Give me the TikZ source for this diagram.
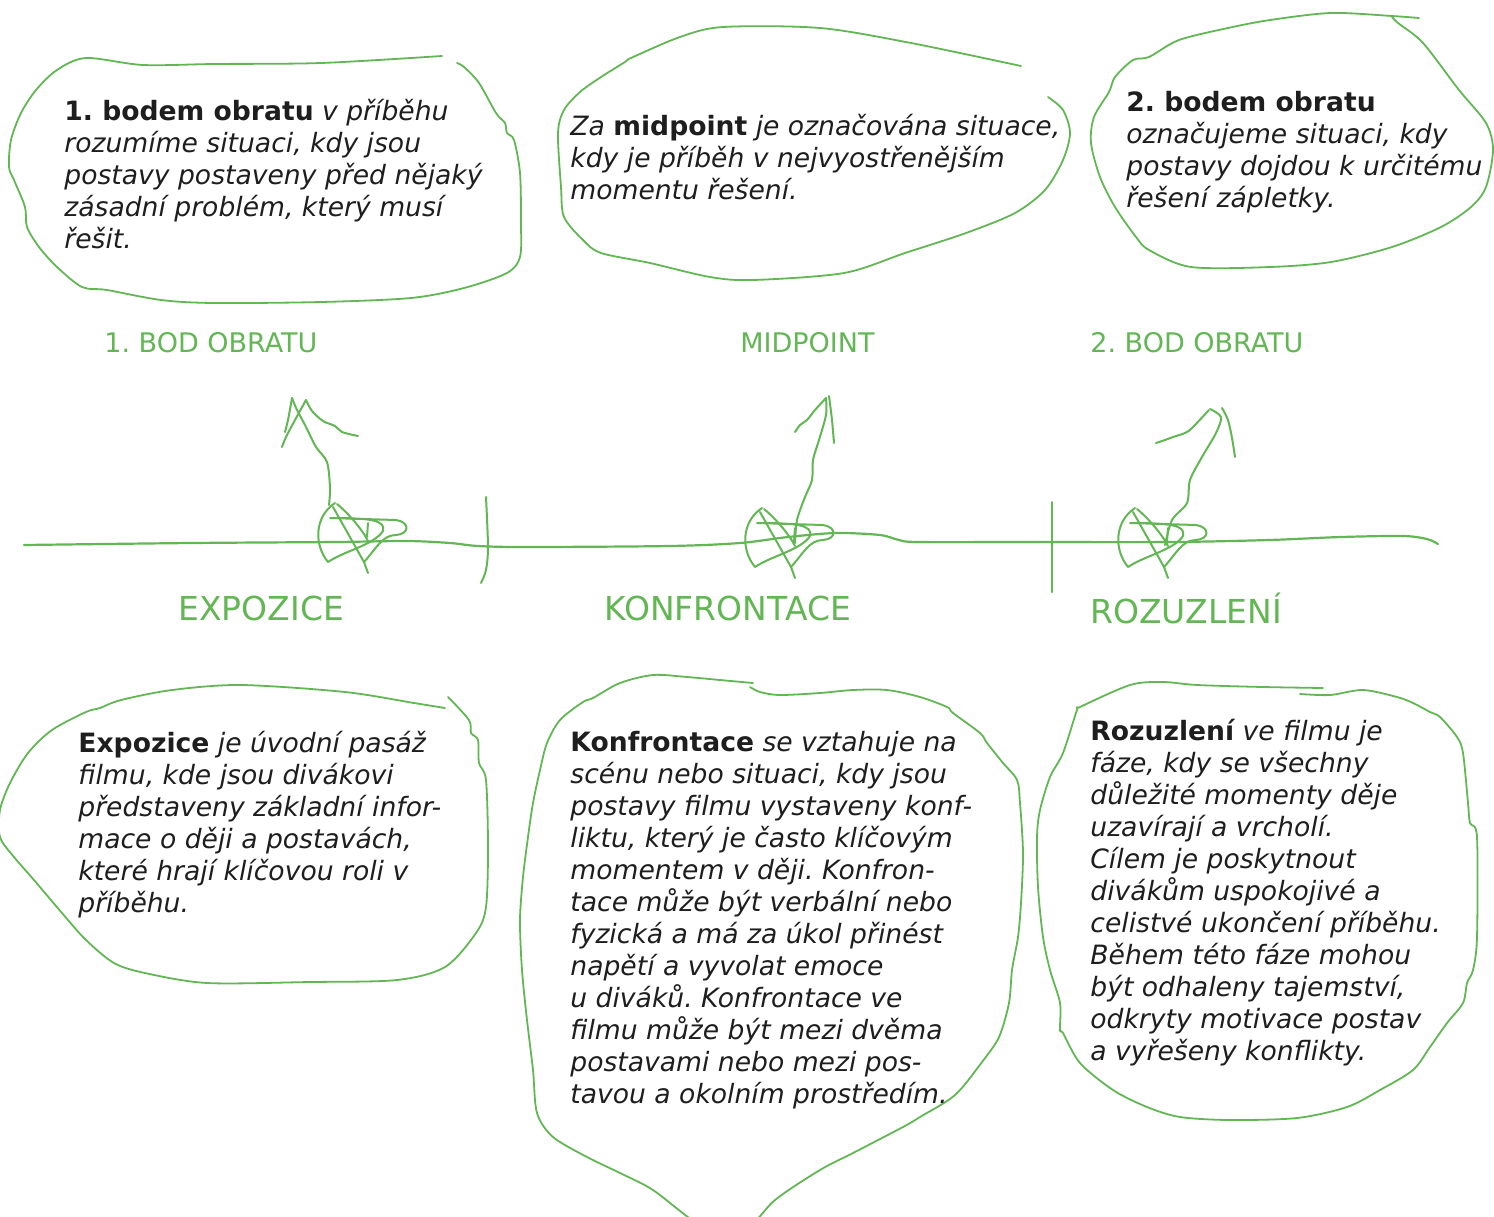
\documentclass[tikz,border=0pt]{standalone}
\usepackage{fontspec}
\setmainfont{DejaVu Sans}
\usepackage{xcolor}
\definecolor{sketchgreen}{RGB}{98,182,84}
\definecolor{inkblack}{RGB}{30,30,30}
\frenchspacing
\newcommand{\kw}[1]{{\upshape\bfseries #1}}
\tikzset{knot/.pic={
   \draw[sketch] (-17,-34) .. controls (-38,-20) and (-38,8) .. (-24,25) .. controls (-8,14) and (22,8) .. (31,-6)
      .. controls (34,-17) and (18,-19) .. (-22,-19) -- (44,-17) .. controls (58,-15) and (58,-3) .. (44,-2)
      .. controls (30,-2) and (24,12) .. (12,25) -- (16,36);
   \draw[sketch] (-19,-30) -- (12,25);
   \draw[sketch] (-15,-33) .. controls (-4,-24) and (10,-8) .. (16,4);
   \draw[sketch] (16,-14) -- (15,0);
}}

\begin{document}
\begin{tikzpicture}[x=.5pt, y=-.5pt, line cap=round, line join=round]
   \tikzstyle{sketch}=[draw=sketchgreen, line width=1pt]
   \tikzstyle{blob}=[sketch, line width=.9pt]
   \tikzstyle{note}=[anchor=north west, align=left, inner sep=0pt, text=inkblack, font=\fontsize{13.3}{16}\selectfont\itshape]
   \tikzstyle{actlabel}=[anchor=west, inner sep=0pt, text=sketchgreen, font=\fontsize{16.5}{20}\selectfont]
   \tikzstyle{pointlabel}=[anchor=west, inner sep=0pt, text=sketchgreen, font=\fontsize{13.5}{16}\selectfont]

   \useasboundingbox (0,0) rectangle (1494,1216);

   % blobs
   \draw[blob] plot[smooth, tension=.5] coordinates {(442,56) (321,63) (214,64) (143,65) (86,58) (57,70) (36,90) (21,113) (11,140) (9,167) (14,180) (25,207) (27,227) (39,247) (57,267) (82,287) (107,290) (161,300) (214,303) (321,302) (411,298) (464,288) (507,273) (520,257) (521,223) (520,173) (514,140) (507,133) (505,123) (496,113) (479,83) (464,67) (457,63)};
   \draw[blob] plot[smooth, tension=.5] coordinates {(1021,66) (911,43) (820,28) (723,27) (680,37) (631,58) (625,62) (601,77) (580,92) (564,110) (558,133) (561,187) (564,217) (583,240) (601,253) (650,263) (710,277) (753,280) (844,273) (905,253) (966,233) (1015,213) (1045,190) (1063,160) (1070,133) (1063,110) (1048,97)};
   \draw[blob] plot[smooth, tension=.5] coordinates {(1419,18) (1392,16) (1331,13) (1270,20) (1228,28) (1179,40) (1149,57) (1133,60) (1115,77) (1109,92) (1094,117) (1091,143) (1100,177) (1115,207) (1136,237) (1149,250) (1191,267) (1270,267) (1331,262) (1392,247) (1441,227) (1471,207) (1486,187) (1493,150) (1486,123) (1459,90) (1423,43) (1398,23) (1392,17)};
   \draw[blob] plot[smooth, tension=.5] coordinates {(445,708) (414,703) (345,692) (241,685) (172,690) (121,700) (100,708) (86,712) (52,730) (28,753) (10,783) (0,810) (0,837) (14,857) (34,880) (62,913) (86,940) (114,963) (145,973) (207,983) (310,982) (397,980) (445,967) (476,933) (486,907) (488,847) (486,780) (479,763) (478,740) (471,733) (469,720) (448,697)};
   \draw[blob] plot[smooth, tension=.5] coordinates {(753,683) (720,680) (687,677) (653,675) (620,683) (593,698) (583,702) (560,720) (547,743) (540,770) (533,803) (528,837) (523,877) (520,920) (522,970) (527,1020) (533,1070) (537,1113) (553,1137) (587,1157) (620,1173) (653,1190) (700,1225) (740,1235) (775,1200) (820,1170) (853,1153) (903,1127) (920,1117) (955,1095) (982,1062) (999,1037) (1009,1003) (1012,970) (1018,937) (1021,903) (1023,853) (1020,803) (1017,780) (1003,763) (987,743) (980,733) (953,713) (947,707) (920,697) (887,690) (853,690) (820,693) (780,695) (760,692) (750,687)};
   \draw[blob] plot[smooth, tension=.5] coordinates {(1323,688) (1263,687) (1197,685) (1163,682) (1130,685) (1080,707) (1077,710) (1063,753) (1050,777) (1040,810) (1037,837) (1038,887) (1043,937) (1050,970) (1060,1003) (1060,1030) (1063,1033) (1080,1063) (1113,1090) (1147,1107) (1180,1117) (1230,1120) (1297,1118) (1347,1107) (1380,1090) (1413,1070) (1430,1047) (1447,1023) (1463,1003) (1467,983) (1473,970) (1477,937) (1477,837) (1470,823) (1468,803) (1463,753) (1457,737) (1440,717) (1430,712) (1413,703) (1397,697) (1363,690) (1330,695) (1300,694)};

   \node[note] (note_bod1) at (64,99) {\kw{1. bodem obratu} v příběhu\\rozumíme situaci, kdy jsou\\postavy postaveny před nějaký\\zásadní problém, který musí\\řešit.};
   \node[note] (note_mid) at (570,114) {Za \kw{midpoint} je označována situace,\\kdy je příběh v nejvyostřenějším\\momentu řešení.};
   \node[note] (note_bod2) at (1126,91) {\kw{2. bodem obratu}\\označujeme situaci, kdy\\postavy dojdou k určitému\\řešení zápletky.};
   \node[note] (note_expo) at (78,731) {\kw{Expozice} je úvodní pasáž\\filmu, kde jsou divákovi\\představeny základní infor-\\mace o ději a postavách,\\které hrají klíčovou roli v\\příběhu.};
   \node[note] (note_konf) at (570,731) {\kw{Konfrontace} se vztahuje na\\scénu nebo situaci, kdy jsou\\postavy filmu vystaveny konf-\\liktu, který je často klíčovým\\momentem v ději. Konfron-\\tace může být verbální nebo\\fyzická a má za úkol přinést\\napětí a vyvolat emoce\\u diváků. Konfrontace ve\\filmu může být mezi dvěma\\postavami nebo mezi pos-\\tavou a okolním prostředím.};
   \node[note] (note_rozu) at (1090,719) {\kw{Rozuzlení} ve filmu je\\fáze, kdy se všechny\\důležité momenty děje\\uzavírají a vrcholí.\\Cílem je poskytnout\\divákům uspokojivé a\\celistvé ukončení příběhu.\\Během této fáze mohou\\být odhaleny tajemství,\\odkryty motivace postav\\a vyřešeny konflikty.};

   \node[pointlabel] (label_bod1) at (104,343) {1. BOD OBRATU};
   \node[pointlabel] (label_mid) at (740,343) {MIDPOINT};
   \node[pointlabel] (label_bod2) at (1090,343) {2. BOD OBRATU};
   \node[actlabel] (label_expo) at (178,608) {EXPOZICE};
   \node[actlabel] (label_konf) at (604,608) {KONFRONTACE};
   \node[actlabel] (label_rozu) at (1090,608) {ROZUZLENÍ};

   % timeline
   \draw[sketch, line width=1.1pt] plot[smooth, tension=.5] coordinates {(24,545) (191,543) (335,542) (407,541) (450,543) (478,546) (526,547) (670,546) (740,543) (788,537) (836,533) (880,535) (899,540) (918,542) (1028,542) (1173,542) (1269,540) (1341,537) (1403,536) (1427,539) (1438,544)};
   \draw[sketch] plot[smooth] coordinates {(486,497) (488,547) (486,570) (481,583)};
   \draw[sketch] (1052,502) -- (1052,592);

   \pic at (352,537) {knot};
   \pic at (779,542) {knot};
   \pic at (1152,542) {knot};

   % arrows
   \draw[sketch] plot[smooth, tension=.5] coordinates {(329,505) (330,488) (327,462) (316,447) (305,425) (297,410) (292,398)};
   \draw[sketch] plot[smooth, tension=.5] coordinates {(306,400) (295,420) (286,437) (282,447)};
   \draw[sketch] plot[smooth, tension=.5] coordinates {(292,398) (288,420) (285,432)};
   \draw[sketch] plot[smooth, tension=.5] coordinates {(306,400) (312,411) (323,421) (335,426) (342,432) (358,436)};

   \draw[sketch] plot[smooth, tension=.5] coordinates {(795,543) (797,520) (805,497) (812,480) (813,460) (819,440) (826,415) (826,398)};
   \draw[sketch] plot[smooth, tension=.5] coordinates {(795,432) (800,425) (807,420) (815,410) (826,398)};
   \draw[sketch] plot[smooth, tension=.5] coordinates {(829,396) (832,420) (834,443)};

   \draw[sketch] plot[smooth, tension=.5] coordinates {(1165,545) (1172,520) (1187,503) (1190,480) (1202,457) (1216,433) (1221,417) (1210,409)};
   \draw[sketch] plot[smooth, tension=.5] coordinates {(1156,443) (1165,440) (1173,437) (1185,433) (1192,428) (1209,410)};
   \draw[sketch] plot[smooth, tension=.5] coordinates {(1222,408) (1228,420) (1232,438) (1235,457)};
\end{tikzpicture}
\end{document}
